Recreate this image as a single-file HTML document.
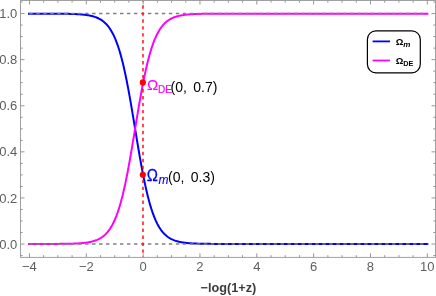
<!DOCTYPE html>
<html><head><meta charset="utf-8"><title>plot</title>
<style>
html,body{margin:0;padding:0;background:#fff;}
body{width:436px;height:296px;overflow:hidden;}
svg{display:block;font-family:"Liberation Sans",sans-serif;}
</style></head><body>
<svg width="436" height="296" viewBox="0 0 436 296">
<g style="mix-blend-mode:multiply">
<path d="M29.00,13.65 L30.02,13.65 L30.59,13.65 L31.16,13.65 L31.72,13.65 L32.29,13.65 L32.86,13.65 L33.43,13.66 L34.00,13.66 L34.57,13.66 L35.13,13.66 L35.70,13.66 L36.27,13.66 L36.84,13.66 L37.41,13.66 L37.98,13.66 L38.54,13.66 L39.11,13.66 L39.68,13.66 L40.25,13.66 L40.82,13.66 L41.39,13.66 L41.95,13.66 L42.52,13.66 L43.09,13.66 L43.66,13.66 L44.23,13.67 L44.80,13.67 L45.37,13.67 L45.93,13.67 L46.50,13.67 L47.07,13.67 L47.64,13.67 L48.21,13.67 L48.78,13.68 L49.34,13.68 L49.91,13.68 L50.48,13.68 L51.05,13.68 L51.62,13.68 L52.19,13.69 L52.75,13.69 L53.32,13.69 L53.89,13.69 L54.46,13.70 L55.03,13.70 L55.60,13.70 L56.16,13.71 L56.73,13.71 L57.30,13.71 L57.87,13.72 L58.44,13.72 L59.01,13.72 L59.58,13.73 L60.14,13.73 L60.71,13.74 L61.28,13.75 L61.85,13.75 L62.42,13.76 L62.99,13.76 L63.55,13.77 L64.12,13.78 L64.69,13.79 L65.26,13.79 L65.83,13.80 L66.40,13.81 L66.96,13.82 L67.53,13.83 L68.10,13.85 L68.67,13.86 L69.24,13.87 L69.81,13.88 L70.37,13.90 L70.94,13.91 L71.51,13.93 L72.08,13.95 L72.65,13.97 L73.22,13.98 L73.79,14.01 L74.35,14.03 L74.92,14.05 L75.49,14.08 L76.06,14.10 L76.63,14.13 L77.20,14.16 L77.76,14.19 L78.33,14.22 L78.90,14.26 L79.47,14.30 L80.04,14.34 L80.61,14.38 L81.17,14.42 L81.74,14.47 L82.31,14.52 L82.88,14.58 L83.45,14.63 L84.02,14.69 L84.58,14.76 L85.15,14.83 L85.72,14.90 L86.29,14.97 L86.86,15.06 L87.43,15.14 L88.00,15.23 L88.56,15.33 L89.13,15.43 L89.70,15.54 L90.27,15.66 L90.84,15.78 L91.41,15.91 L91.97,16.05 L92.54,16.20 L93.11,16.35 L93.68,16.52 L94.25,16.69 L94.82,16.88 L95.38,17.08 L95.95,17.29 L96.52,17.51 L97.09,17.74 L97.66,17.99 L98.23,18.25 L98.79,18.53 L99.36,18.83 L99.93,19.14 L100.50,19.47 L101.07,19.82 L101.64,20.19 L102.21,20.58 L102.77,21.00 L103.34,21.44 L103.91,21.90 L104.48,22.39 L105.05,22.91 L105.62,23.46 L106.18,24.04 L106.75,24.65 L107.32,25.29 L107.89,25.98 L108.46,26.69 L109.03,27.45 L109.59,28.25 L110.16,29.09 L110.73,29.98 L111.30,30.92 L111.87,31.90 L112.44,32.93 L113.00,34.02 L113.57,35.16 L114.14,36.36 L114.71,37.62 L115.28,38.94 L115.85,40.32 L116.42,41.77 L116.98,43.28 L117.55,44.87 L118.12,46.52 L118.69,48.25 L119.26,50.05 L119.83,51.93 L120.39,53.88 L120.96,55.91 L121.53,58.02 L122.10,60.21 L122.67,62.48 L123.24,64.83 L123.80,67.26 L124.37,69.77 L124.94,72.35 L125.51,75.01 L126.08,77.75 L126.65,80.56 L127.21,83.45 L127.78,86.40 L128.35,89.42 L128.92,92.50 L129.49,95.64 L130.06,98.83 L130.63,102.08 L131.19,105.37 L131.76,108.70 L132.33,112.07 L132.90,115.46 L133.47,118.88 L134.04,122.32 L134.60,125.77 L135.17,129.22 L135.74,132.67 L136.31,136.12 L136.88,139.55 L137.45,142.97 L138.01,146.35 L138.58,149.71 L139.15,153.03 L139.72,156.31 L140.29,159.55 L140.86,162.73 L141.42,165.85 L141.99,168.92 L142.56,171.92 L143.13,174.86 L143.70,177.73 L144.27,180.52 L144.84,183.24 L145.40,185.89 L145.97,188.45 L146.54,190.94 L147.11,193.35 L147.68,195.68 L148.25,197.93 L148.81,200.10 L149.38,202.19 L149.95,204.20 L150.52,206.13 L151.09,207.99 L151.66,209.78 L152.22,211.49 L152.79,213.12 L153.36,214.69 L153.93,216.19 L154.50,217.62 L155.07,218.99 L155.63,220.29 L156.20,221.54 L156.77,222.72 L157.34,223.85 L157.91,224.92 L158.48,225.94 L159.05,226.92 L159.61,227.84 L160.18,228.71 L160.75,229.55 L161.32,230.34 L161.89,231.08 L162.46,231.79 L163.02,232.47 L163.59,233.10 L164.16,233.71 L164.73,234.28 L165.30,234.82 L165.87,235.33 L166.43,235.82 L167.00,236.27 L167.57,236.71 L168.14,237.12 L168.71,237.50 L169.28,237.87 L169.84,238.21 L170.41,238.54 L170.98,238.85 L171.55,239.14 L172.12,239.41 L172.69,239.67 L173.26,239.92 L173.82,240.15 L174.39,240.37 L174.96,240.57 L175.53,240.77 L176.10,240.95 L176.67,241.12 L177.23,241.28 L177.80,241.44 L178.37,241.58 L178.94,241.72 L179.51,241.85 L180.08,241.97 L180.64,242.08 L181.21,242.19 L181.78,242.29 L182.35,242.39 L182.92,242.48 L183.49,242.56 L184.05,242.64 L184.62,242.72 L185.19,242.79 L185.76,242.86 L186.33,242.92 L186.90,242.98 L187.47,243.04 L188.03,243.09 L188.60,243.14 L189.17,243.19 L189.74,243.23 L190.31,243.27 L190.88,243.31 L191.44,243.35 L192.01,243.38 L192.58,243.42 L193.15,243.45 L193.72,243.48 L194.29,243.51 L194.85,243.53 L195.42,243.56 L195.99,243.58 L196.56,243.60 L197.13,243.62 L197.70,243.64 L198.26,243.66 L198.83,243.67 L199.40,243.69 L199.97,243.71 L200.54,243.72 L201.11,243.73 L201.68,243.75 L202.24,243.76 L202.81,243.77 L203.38,243.78 L203.95,243.79 L204.52,243.80 L205.09,243.81 L205.65,243.82 L206.22,243.82 L206.79,243.83 L207.36,243.84 L207.93,243.84 L208.50,243.85 L209.06,243.86 L209.63,243.86 L210.20,243.87 L210.77,243.87 L211.34,243.88 L211.91,243.88 L212.47,243.88 L213.04,243.89 L213.61,243.89 L214.18,243.90 L214.75,243.90 L215.32,243.90 L215.89,243.90 L216.45,243.91 L217.02,243.91 L217.59,243.91 L218.16,243.91 L218.73,243.92 L219.30,243.92 L219.86,243.92 L220.43,243.92 L221.00,243.92 L221.57,243.92 L222.14,243.93 L222.71,243.93 L223.27,243.93 L223.84,243.93 L224.41,243.93 L224.98,243.93 L225.55,243.93 L226.12,243.93 L226.68,243.94 L227.25,243.94 L227.82,243.94 L228.39,243.94 L228.96,243.94 L229.53,243.94 L230.10,243.94 L230.66,243.94 L231.23,243.94 L231.80,243.94 L232.37,243.94 L232.94,243.94 L233.51,243.94 L234.07,243.94 L234.64,243.94 L235.21,243.94 L235.78,243.94 L236.35,243.94 L236.92,243.95 L237.48,243.95 L238.05,243.95 L238.62,243.95 L239.19,243.95 L239.76,243.95 L240.33,243.95 L240.89,243.95 L241.46,243.95 L242.03,243.95 L242.60,243.95 L243.17,243.95 L243.74,243.95 L244.31,243.95 L244.87,243.95 L245.44,243.95 L246.01,243.95 L246.58,243.95 L247.15,243.95 L247.72,243.95 L248.28,243.95 L248.85,243.95 L249.42,243.95 L249.99,243.95 L250.56,243.95 L251.13,243.95 L251.69,243.95 L252.26,243.95 L252.83,243.95 L253.40,243.95 L253.97,243.95 L254.54,243.95 L255.10,243.95 L255.67,243.95 L256.24,243.95 L256.81,243.95 L257.38,243.95 L257.95,243.95 L258.52,243.95 L259.08,243.95 L259.65,243.95 L260.22,243.95 L260.79,243.95 L261.36,243.95 L261.93,243.95 L262.49,243.95 L263.06,243.95 L263.63,243.95 L264.20,243.95 L264.77,243.95 L265.34,243.95 L265.90,243.95 L266.47,243.95 L267.04,243.95 L267.61,243.95 L268.18,243.95 L268.75,243.95 L269.31,243.95 L269.88,243.95 L270.45,243.95 L271.02,243.95 L271.59,243.95 L272.16,243.95 L272.73,243.95 L273.29,243.95 L273.86,243.95 L274.43,243.95 L275.00,243.95 L275.57,243.95 L276.14,243.95 L276.70,243.95 L277.27,243.95 L277.84,243.95 L278.41,243.95 L278.98,243.95 L279.55,243.95 L280.11,243.95 L280.68,243.95 L281.25,243.95 L281.82,243.95 L282.39,243.95 L282.96,243.95 L283.52,243.95 L284.09,243.95 L284.66,243.95 L285.23,243.95 L285.80,243.95 L286.37,243.95 L286.94,243.95 L287.50,243.95 L288.07,243.95 L288.64,243.95 L289.21,243.95 L289.78,243.95 L290.35,243.95 L290.91,243.95 L291.48,243.95 L292.05,243.95 L292.62,243.95 L293.19,243.95 L293.76,243.95 L294.32,243.95 L294.89,243.95 L295.46,243.95 L296.03,243.95 L296.60,243.95 L297.17,243.95 L297.73,243.95 L298.30,243.95 L298.87,243.95 L299.44,243.95 L300.01,243.95 L300.58,243.95 L301.15,243.95 L301.71,243.95 L302.28,243.95 L302.85,243.95 L303.42,243.95 L303.99,243.95 L304.56,243.95 L305.12,243.95 L305.69,243.95 L306.26,243.95 L306.83,243.95 L307.40,243.95 L307.97,243.95 L308.53,243.95 L309.10,243.95 L309.67,243.95 L310.24,243.95 L310.81,243.95 L311.38,243.95 L311.94,243.95 L312.51,243.95 L313.08,243.95 L313.65,243.95 L314.22,243.95 L314.79,243.95 L315.36,243.95 L315.92,243.95 L316.49,243.95 L317.06,243.95 L317.63,243.95 L318.20,243.95 L318.77,243.95 L319.33,243.95 L319.90,243.95 L320.47,243.95 L321.04,243.95 L321.61,243.95 L322.18,243.95 L322.74,243.95 L323.31,243.95 L323.88,243.95 L324.45,243.95 L325.02,243.95 L325.59,243.95 L326.15,243.95 L326.72,243.95 L327.29,243.95 L327.86,243.95 L328.43,243.95 L329.00,243.95 L329.57,243.95 L330.13,243.95 L330.70,243.95 L331.27,243.95 L331.84,243.95 L332.41,243.95 L332.98,243.95 L333.54,243.95 L334.11,243.95 L334.68,243.95 L335.25,243.95 L335.82,243.95 L336.39,243.95 L336.95,243.95 L337.52,243.95 L338.09,243.95 L338.66,243.95 L339.23,243.95 L339.80,243.95 L340.36,243.95 L340.93,243.95 L341.50,243.95 L342.07,243.95 L342.64,243.95 L343.21,243.95 L343.78,243.95 L344.34,243.95 L344.91,243.95 L345.48,243.95 L346.05,243.95 L346.62,243.95 L347.19,243.95 L347.75,243.95 L348.32,243.95 L348.89,243.95 L349.46,243.95 L350.03,243.95 L350.60,243.95 L351.16,243.95 L351.73,243.95 L352.30,243.95 L352.87,243.95 L353.44,243.95 L354.01,243.95 L354.57,243.95 L355.14,243.95 L355.71,243.95 L356.28,243.95 L356.85,243.95 L357.42,243.95 L357.99,243.95 L358.55,243.95 L359.12,243.95 L359.69,243.95 L360.26,243.95 L360.83,243.95 L361.40,243.95 L361.96,243.95 L362.53,243.95 L363.10,243.95 L363.67,243.95 L364.24,243.95 L364.81,243.95 L365.37,243.95 L365.94,243.95 L366.51,243.95 L367.08,243.95 L367.65,243.95 L368.22,243.95 L368.78,243.95 L369.35,243.95 L369.92,243.95 L370.49,243.95 L371.06,243.95 L371.63,243.95 L372.20,243.95 L372.76,243.95 L373.33,243.95 L373.90,243.95 L374.47,243.95 L375.04,243.95 L375.61,243.95 L376.17,243.95 L376.74,243.95 L377.31,243.95 L377.88,243.95 L378.45,243.95 L379.02,243.95 L379.58,243.95 L380.15,243.95 L380.72,243.95 L381.29,243.95 L381.86,243.95 L382.43,243.95 L382.99,243.95 L383.56,243.95 L384.13,243.95 L384.70,243.95 L385.27,243.95 L385.84,243.95 L386.41,243.95 L386.97,243.95 L387.54,243.95 L388.11,243.95 L388.68,243.95 L389.25,243.95 L389.82,243.95 L390.38,243.95 L390.95,243.95 L391.52,243.95 L392.09,243.95 L392.66,243.95 L393.23,243.95 L393.79,243.95 L394.36,243.95 L394.93,243.95 L395.50,243.95 L396.07,243.95 L396.64,243.95 L397.20,243.95 L397.77,243.95 L398.34,243.95 L398.91,243.95 L399.48,243.95 L400.05,243.95 L400.62,243.95 L401.18,243.95 L401.75,243.95 L402.32,243.95 L402.89,243.95 L403.46,243.95 L404.03,243.95 L404.59,243.95 L405.16,243.95 L405.73,243.95 L406.30,243.95 L406.87,243.95 L407.44,243.95 L408.00,243.95 L408.57,243.95 L409.14,243.95 L409.71,243.95 L410.28,243.95 L410.85,243.95 L411.41,243.95 L411.98,243.95 L412.55,243.95 L413.12,243.95 L413.69,243.95 L414.26,243.95 L414.83,243.95 L415.39,243.95 L415.96,243.95 L416.53,243.95 L417.10,243.95 L417.67,243.95 L418.24,243.95 L418.80,243.95 L419.37,243.95 L419.94,243.95 L420.51,243.95 L421.08,243.95 L421.65,243.95 L422.21,243.95 L422.78,243.95 L423.35,243.95 L423.92,243.95 L424.49,243.95 L425.06,243.95 L425.62,243.95 L426.19,243.95 L426.76,243.95 L427.33,243.95" fill="none" stroke="#0000ff" stroke-width="2" stroke-linejoin="round" stroke-linecap="square"/>
<path d="M29.00,243.95 L30.02,243.95 L30.59,243.95 L31.16,243.95 L31.72,243.95 L32.29,243.95 L32.86,243.95 L33.43,243.94 L34.00,243.94 L34.57,243.94 L35.13,243.94 L35.70,243.94 L36.27,243.94 L36.84,243.94 L37.41,243.94 L37.98,243.94 L38.54,243.94 L39.11,243.94 L39.68,243.94 L40.25,243.94 L40.82,243.94 L41.39,243.94 L41.95,243.94 L42.52,243.94 L43.09,243.94 L43.66,243.94 L44.23,243.93 L44.80,243.93 L45.37,243.93 L45.93,243.93 L46.50,243.93 L47.07,243.93 L47.64,243.93 L48.21,243.93 L48.78,243.92 L49.34,243.92 L49.91,243.92 L50.48,243.92 L51.05,243.92 L51.62,243.92 L52.19,243.91 L52.75,243.91 L53.32,243.91 L53.89,243.91 L54.46,243.90 L55.03,243.90 L55.60,243.90 L56.16,243.89 L56.73,243.89 L57.30,243.89 L57.87,243.88 L58.44,243.88 L59.01,243.88 L59.58,243.87 L60.14,243.87 L60.71,243.86 L61.28,243.85 L61.85,243.85 L62.42,243.84 L62.99,243.84 L63.55,243.83 L64.12,243.82 L64.69,243.81 L65.26,243.81 L65.83,243.80 L66.40,243.79 L66.96,243.78 L67.53,243.77 L68.10,243.75 L68.67,243.74 L69.24,243.73 L69.81,243.72 L70.37,243.70 L70.94,243.69 L71.51,243.67 L72.08,243.65 L72.65,243.63 L73.22,243.62 L73.79,243.59 L74.35,243.57 L74.92,243.55 L75.49,243.52 L76.06,243.50 L76.63,243.47 L77.20,243.44 L77.76,243.41 L78.33,243.38 L78.90,243.34 L79.47,243.30 L80.04,243.26 L80.61,243.22 L81.17,243.18 L81.74,243.13 L82.31,243.08 L82.88,243.02 L83.45,242.97 L84.02,242.91 L84.58,242.84 L85.15,242.77 L85.72,242.70 L86.29,242.63 L86.86,242.54 L87.43,242.46 L88.00,242.37 L88.56,242.27 L89.13,242.17 L89.70,242.06 L90.27,241.94 L90.84,241.82 L91.41,241.69 L91.97,241.55 L92.54,241.40 L93.11,241.25 L93.68,241.08 L94.25,240.91 L94.82,240.72 L95.38,240.52 L95.95,240.31 L96.52,240.09 L97.09,239.86 L97.66,239.61 L98.23,239.35 L98.79,239.07 L99.36,238.77 L99.93,238.46 L100.50,238.13 L101.07,237.78 L101.64,237.41 L102.21,237.02 L102.77,236.60 L103.34,236.16 L103.91,235.70 L104.48,235.21 L105.05,234.69 L105.62,234.14 L106.18,233.56 L106.75,232.95 L107.32,232.31 L107.89,231.62 L108.46,230.91 L109.03,230.15 L109.59,229.35 L110.16,228.51 L110.73,227.62 L111.30,226.68 L111.87,225.70 L112.44,224.67 L113.00,223.58 L113.57,222.44 L114.14,221.24 L114.71,219.98 L115.28,218.66 L115.85,217.28 L116.42,215.83 L116.98,214.32 L117.55,212.73 L118.12,211.08 L118.69,209.35 L119.26,207.55 L119.83,205.67 L120.39,203.72 L120.96,201.69 L121.53,199.58 L122.10,197.39 L122.67,195.12 L123.24,192.77 L123.80,190.34 L124.37,187.83 L124.94,185.25 L125.51,182.59 L126.08,179.85 L126.65,177.04 L127.21,174.15 L127.78,171.20 L128.35,168.18 L128.92,165.10 L129.49,161.96 L130.06,158.77 L130.63,155.52 L131.19,152.23 L131.76,148.90 L132.33,145.53 L132.90,142.14 L133.47,138.72 L134.04,135.28 L134.60,131.83 L135.17,128.38 L135.74,124.93 L136.31,121.48 L136.88,118.05 L137.45,114.63 L138.01,111.25 L138.58,107.89 L139.15,104.57 L139.72,101.29 L140.29,98.05 L140.86,94.87 L141.42,91.75 L141.99,88.68 L142.56,85.68 L143.13,82.74 L143.70,79.87 L144.27,77.08 L144.84,74.36 L145.40,71.71 L145.97,69.15 L146.54,66.66 L147.11,64.25 L147.68,61.92 L148.25,59.67 L148.81,57.50 L149.38,55.41 L149.95,53.40 L150.52,51.47 L151.09,49.61 L151.66,47.82 L152.22,46.11 L152.79,44.48 L153.36,42.91 L153.93,41.41 L154.50,39.98 L155.07,38.61 L155.63,37.31 L156.20,36.06 L156.77,34.88 L157.34,33.75 L157.91,32.68 L158.48,31.66 L159.05,30.68 L159.61,29.76 L160.18,28.89 L160.75,28.05 L161.32,27.26 L161.89,26.52 L162.46,25.81 L163.02,25.13 L163.59,24.50 L164.16,23.89 L164.73,23.32 L165.30,22.78 L165.87,22.27 L166.43,21.78 L167.00,21.33 L167.57,20.89 L168.14,20.48 L168.71,20.10 L169.28,19.73 L169.84,19.39 L170.41,19.06 L170.98,18.75 L171.55,18.46 L172.12,18.19 L172.69,17.93 L173.26,17.68 L173.82,17.45 L174.39,17.23 L174.96,17.03 L175.53,16.83 L176.10,16.65 L176.67,16.48 L177.23,16.32 L177.80,16.16 L178.37,16.02 L178.94,15.88 L179.51,15.75 L180.08,15.63 L180.64,15.52 L181.21,15.41 L181.78,15.31 L182.35,15.21 L182.92,15.12 L183.49,15.04 L184.05,14.96 L184.62,14.88 L185.19,14.81 L185.76,14.74 L186.33,14.68 L186.90,14.62 L187.47,14.56 L188.03,14.51 L188.60,14.46 L189.17,14.41 L189.74,14.37 L190.31,14.33 L190.88,14.29 L191.44,14.25 L192.01,14.22 L192.58,14.18 L193.15,14.15 L193.72,14.12 L194.29,14.09 L194.85,14.07 L195.42,14.04 L195.99,14.02 L196.56,14.00 L197.13,13.98 L197.70,13.96 L198.26,13.94 L198.83,13.93 L199.40,13.91 L199.97,13.89 L200.54,13.88 L201.11,13.87 L201.68,13.85 L202.24,13.84 L202.81,13.83 L203.38,13.82 L203.95,13.81 L204.52,13.80 L205.09,13.79 L205.65,13.78 L206.22,13.78 L206.79,13.77 L207.36,13.76 L207.93,13.76 L208.50,13.75 L209.06,13.74 L209.63,13.74 L210.20,13.73 L210.77,13.73 L211.34,13.72 L211.91,13.72 L212.47,13.72 L213.04,13.71 L213.61,13.71 L214.18,13.70 L214.75,13.70 L215.32,13.70 L215.89,13.70 L216.45,13.69 L217.02,13.69 L217.59,13.69 L218.16,13.69 L218.73,13.68 L219.30,13.68 L219.86,13.68 L220.43,13.68 L221.00,13.68 L221.57,13.68 L222.14,13.67 L222.71,13.67 L223.27,13.67 L223.84,13.67 L224.41,13.67 L224.98,13.67 L225.55,13.67 L226.12,13.67 L226.68,13.66 L227.25,13.66 L227.82,13.66 L228.39,13.66 L228.96,13.66 L229.53,13.66 L230.10,13.66 L230.66,13.66 L231.23,13.66 L231.80,13.66 L232.37,13.66 L232.94,13.66 L233.51,13.66 L234.07,13.66 L234.64,13.66 L235.21,13.66 L235.78,13.66 L236.35,13.66 L236.92,13.65 L237.48,13.65 L238.05,13.65 L238.62,13.65 L239.19,13.65 L239.76,13.65 L240.33,13.65 L240.89,13.65 L241.46,13.65 L242.03,13.65 L242.60,13.65 L243.17,13.65 L243.74,13.65 L244.31,13.65 L244.87,13.65 L245.44,13.65 L246.01,13.65 L246.58,13.65 L247.15,13.65 L247.72,13.65 L248.28,13.65 L248.85,13.65 L249.42,13.65 L249.99,13.65 L250.56,13.65 L251.13,13.65 L251.69,13.65 L252.26,13.65 L252.83,13.65 L253.40,13.65 L253.97,13.65 L254.54,13.65 L255.10,13.65 L255.67,13.65 L256.24,13.65 L256.81,13.65 L257.38,13.65 L257.95,13.65 L258.52,13.65 L259.08,13.65 L259.65,13.65 L260.22,13.65 L260.79,13.65 L261.36,13.65 L261.93,13.65 L262.49,13.65 L263.06,13.65 L263.63,13.65 L264.20,13.65 L264.77,13.65 L265.34,13.65 L265.90,13.65 L266.47,13.65 L267.04,13.65 L267.61,13.65 L268.18,13.65 L268.75,13.65 L269.31,13.65 L269.88,13.65 L270.45,13.65 L271.02,13.65 L271.59,13.65 L272.16,13.65 L272.73,13.65 L273.29,13.65 L273.86,13.65 L274.43,13.65 L275.00,13.65 L275.57,13.65 L276.14,13.65 L276.70,13.65 L277.27,13.65 L277.84,13.65 L278.41,13.65 L278.98,13.65 L279.55,13.65 L280.11,13.65 L280.68,13.65 L281.25,13.65 L281.82,13.65 L282.39,13.65 L282.96,13.65 L283.52,13.65 L284.09,13.65 L284.66,13.65 L285.23,13.65 L285.80,13.65 L286.37,13.65 L286.94,13.65 L287.50,13.65 L288.07,13.65 L288.64,13.65 L289.21,13.65 L289.78,13.65 L290.35,13.65 L290.91,13.65 L291.48,13.65 L292.05,13.65 L292.62,13.65 L293.19,13.65 L293.76,13.65 L294.32,13.65 L294.89,13.65 L295.46,13.65 L296.03,13.65 L296.60,13.65 L297.17,13.65 L297.73,13.65 L298.30,13.65 L298.87,13.65 L299.44,13.65 L300.01,13.65 L300.58,13.65 L301.15,13.65 L301.71,13.65 L302.28,13.65 L302.85,13.65 L303.42,13.65 L303.99,13.65 L304.56,13.65 L305.12,13.65 L305.69,13.65 L306.26,13.65 L306.83,13.65 L307.40,13.65 L307.97,13.65 L308.53,13.65 L309.10,13.65 L309.67,13.65 L310.24,13.65 L310.81,13.65 L311.38,13.65 L311.94,13.65 L312.51,13.65 L313.08,13.65 L313.65,13.65 L314.22,13.65 L314.79,13.65 L315.36,13.65 L315.92,13.65 L316.49,13.65 L317.06,13.65 L317.63,13.65 L318.20,13.65 L318.77,13.65 L319.33,13.65 L319.90,13.65 L320.47,13.65 L321.04,13.65 L321.61,13.65 L322.18,13.65 L322.74,13.65 L323.31,13.65 L323.88,13.65 L324.45,13.65 L325.02,13.65 L325.59,13.65 L326.15,13.65 L326.72,13.65 L327.29,13.65 L327.86,13.65 L328.43,13.65 L329.00,13.65 L329.57,13.65 L330.13,13.65 L330.70,13.65 L331.27,13.65 L331.84,13.65 L332.41,13.65 L332.98,13.65 L333.54,13.65 L334.11,13.65 L334.68,13.65 L335.25,13.65 L335.82,13.65 L336.39,13.65 L336.95,13.65 L337.52,13.65 L338.09,13.65 L338.66,13.65 L339.23,13.65 L339.80,13.65 L340.36,13.65 L340.93,13.65 L341.50,13.65 L342.07,13.65 L342.64,13.65 L343.21,13.65 L343.78,13.65 L344.34,13.65 L344.91,13.65 L345.48,13.65 L346.05,13.65 L346.62,13.65 L347.19,13.65 L347.75,13.65 L348.32,13.65 L348.89,13.65 L349.46,13.65 L350.03,13.65 L350.60,13.65 L351.16,13.65 L351.73,13.65 L352.30,13.65 L352.87,13.65 L353.44,13.65 L354.01,13.65 L354.57,13.65 L355.14,13.65 L355.71,13.65 L356.28,13.65 L356.85,13.65 L357.42,13.65 L357.99,13.65 L358.55,13.65 L359.12,13.65 L359.69,13.65 L360.26,13.65 L360.83,13.65 L361.40,13.65 L361.96,13.65 L362.53,13.65 L363.10,13.65 L363.67,13.65 L364.24,13.65 L364.81,13.65 L365.37,13.65 L365.94,13.65 L366.51,13.65 L367.08,13.65 L367.65,13.65 L368.22,13.65 L368.78,13.65 L369.35,13.65 L369.92,13.65 L370.49,13.65 L371.06,13.65 L371.63,13.65 L372.20,13.65 L372.76,13.65 L373.33,13.65 L373.90,13.65 L374.47,13.65 L375.04,13.65 L375.61,13.65 L376.17,13.65 L376.74,13.65 L377.31,13.65 L377.88,13.65 L378.45,13.65 L379.02,13.65 L379.58,13.65 L380.15,13.65 L380.72,13.65 L381.29,13.65 L381.86,13.65 L382.43,13.65 L382.99,13.65 L383.56,13.65 L384.13,13.65 L384.70,13.65 L385.27,13.65 L385.84,13.65 L386.41,13.65 L386.97,13.65 L387.54,13.65 L388.11,13.65 L388.68,13.65 L389.25,13.65 L389.82,13.65 L390.38,13.65 L390.95,13.65 L391.52,13.65 L392.09,13.65 L392.66,13.65 L393.23,13.65 L393.79,13.65 L394.36,13.65 L394.93,13.65 L395.50,13.65 L396.07,13.65 L396.64,13.65 L397.20,13.65 L397.77,13.65 L398.34,13.65 L398.91,13.65 L399.48,13.65 L400.05,13.65 L400.62,13.65 L401.18,13.65 L401.75,13.65 L402.32,13.65 L402.89,13.65 L403.46,13.65 L404.03,13.65 L404.59,13.65 L405.16,13.65 L405.73,13.65 L406.30,13.65 L406.87,13.65 L407.44,13.65 L408.00,13.65 L408.57,13.65 L409.14,13.65 L409.71,13.65 L410.28,13.65 L410.85,13.65 L411.41,13.65 L411.98,13.65 L412.55,13.65 L413.12,13.65 L413.69,13.65 L414.26,13.65 L414.83,13.65 L415.39,13.65 L415.96,13.65 L416.53,13.65 L417.10,13.65 L417.67,13.65 L418.24,13.65 L418.80,13.65 L419.37,13.65 L419.94,13.65 L420.51,13.65 L421.08,13.65 L421.65,13.65 L422.21,13.65 L422.78,13.65 L423.35,13.65 L423.92,13.65 L424.49,13.65 L425.06,13.65 L425.62,13.65 L426.19,13.65 L426.76,13.65 L427.33,13.65" fill="none" stroke="#ff00ff" stroke-width="2" stroke-linejoin="round" stroke-linecap="square"/>
<path d="M29.3,13.4 H427.4 M29.3,243.9 H427.4" stroke="#808080" stroke-width="1.55" stroke-dasharray="3.45 3.527" fill="none"/>
<path d="M142.98,-1.75 V257.4" stroke="#ff0000" stroke-width="1.4" stroke-dasharray="3.45 3.527" fill="none"/>
<rect x="20.5" y="0.5" width="415.0" height="256.9" fill="none" stroke="#a0a0a0" stroke-width="1"/>
<path d="M29.45,257.40 v-4.00 M29.45,0.50 v4.00 M43.66,257.40 v-2.20 M43.66,0.50 v2.20 M57.87,257.40 v-2.20 M57.87,0.50 v2.20 M72.08,257.40 v-2.20 M72.08,0.50 v2.20 M86.29,257.40 v-4.00 M86.29,0.50 v4.00 M100.50,257.40 v-2.20 M100.50,0.50 v2.20 M114.71,257.40 v-2.20 M114.71,0.50 v2.20 M128.92,257.40 v-2.20 M128.92,0.50 v2.20 M143.13,257.40 v-4.00 M143.13,0.50 v4.00 M157.34,257.40 v-2.20 M157.34,0.50 v2.20 M171.55,257.40 v-2.20 M171.55,0.50 v2.20 M185.76,257.40 v-2.20 M185.76,0.50 v2.20 M199.97,257.40 v-4.00 M199.97,0.50 v4.00 M214.18,257.40 v-2.20 M214.18,0.50 v2.20 M228.39,257.40 v-2.20 M228.39,0.50 v2.20 M242.60,257.40 v-2.20 M242.60,0.50 v2.20 M256.81,257.40 v-4.00 M256.81,0.50 v4.00 M271.02,257.40 v-2.20 M271.02,0.50 v2.20 M285.23,257.40 v-2.20 M285.23,0.50 v2.20 M299.44,257.40 v-2.20 M299.44,0.50 v2.20 M313.65,257.40 v-4.00 M313.65,0.50 v4.00 M327.86,257.40 v-2.20 M327.86,0.50 v2.20 M342.07,257.40 v-2.20 M342.07,0.50 v2.20 M356.28,257.40 v-2.20 M356.28,0.50 v2.20 M370.49,257.40 v-4.00 M370.49,0.50 v4.00 M384.70,257.40 v-2.20 M384.70,0.50 v2.20 M398.91,257.40 v-2.20 M398.91,0.50 v2.20 M413.12,257.40 v-2.20 M413.12,0.50 v2.20 M427.33,257.40 v-4.00 M427.33,0.50 v4.00 M20.50,255.58 h2.20 M435.50,255.58 h-2.20 M20.50,244.05 h4.00 M435.50,244.05 h-4.00 M20.50,232.53 h2.20 M435.50,232.53 h-2.20 M20.50,221.00 h2.20 M435.50,221.00 h-2.20 M20.50,209.48 h2.20 M435.50,209.48 h-2.20 M20.50,197.95 h4.00 M435.50,197.95 h-4.00 M20.50,186.43 h2.20 M435.50,186.43 h-2.20 M20.50,174.90 h2.20 M435.50,174.90 h-2.20 M20.50,163.38 h2.20 M435.50,163.38 h-2.20 M20.50,151.85 h4.00 M435.50,151.85 h-4.00 M20.50,140.32 h2.20 M435.50,140.32 h-2.20 M20.50,128.80 h2.20 M435.50,128.80 h-2.20 M20.50,117.28 h2.20 M435.50,117.28 h-2.20 M20.50,105.75 h4.00 M435.50,105.75 h-4.00 M20.50,94.22 h2.20 M435.50,94.22 h-2.20 M20.50,82.70 h2.20 M435.50,82.70 h-2.20 M20.50,71.18 h2.20 M435.50,71.18 h-2.20 M20.50,59.65 h4.00 M435.50,59.65 h-4.00 M20.50,48.12 h2.20 M435.50,48.12 h-2.20 M20.50,36.60 h2.20 M435.50,36.60 h-2.20 M20.50,25.07 h2.20 M435.50,25.07 h-2.20 M20.50,13.55 h4.00 M435.50,13.55 h-4.00 M20.50,2.03 h2.20 M435.50,2.03 h-2.20" stroke="#969696" stroke-width="1" fill="none"/>
<g font-size="13" fill="#5e5e5e"><text x="29.45" y="271.3" text-anchor="middle">−4</text><text x="86.29" y="271.3" text-anchor="middle">−2</text><text x="143.13" y="271.3" text-anchor="middle">0</text><text x="199.97" y="271.3" text-anchor="middle">2</text><text x="256.81" y="271.3" text-anchor="middle">4</text><text x="313.65" y="271.3" text-anchor="middle">6</text><text x="370.49" y="271.3" text-anchor="middle">8</text><text x="427.33" y="271.3" text-anchor="middle">10</text><text x="17.3" y="248.65" text-anchor="end">0.0</text><text x="17.3" y="202.55" text-anchor="end">0.2</text><text x="17.3" y="156.45" text-anchor="end">0.4</text><text x="17.3" y="110.35" text-anchor="end">0.6</text><text x="17.3" y="64.25" text-anchor="end">0.8</text><text x="17.3" y="18.15" text-anchor="end">1.0</text></g>
<text x="228.4" y="292" text-anchor="middle" font-size="12.7" font-weight="bold" fill="#3c3c3c">−log(1+z)</text>
<circle cx="142.83" cy="82.45" r="3.1" fill="#ff0000"/>
<circle cx="142.83" cy="174.75" r="3.1" fill="#ff0000"/>
<g font-size="14">
<text x="147.1" y="90.4" fill="#ff00ff" stroke="#ff00ff" stroke-width="0.15" font-size="15">Ω</text><text x="158" y="92.8" fill="#ff00ff" stroke="#ff00ff" stroke-width="0.2" font-size="10">DE</text>
<text x="170.6" y="91.9" fill="#000">(0,</text><text x="193.3" y="91.9" fill="#000">0.7)</text>
<text transform="translate(146.8,181.0) scale(1,1.08)" x="0" y="0" fill="#0000ff" stroke="#0000ff" stroke-width="0.25" font-size="15">Ω</text><text x="158.6" y="184" fill="#0000ff" stroke="#0000ff" stroke-width="0.15" font-size="12" font-style="italic">m</text>
<text x="168.1" y="182.3" fill="#000">(0,</text><text x="190.8" y="182.3" fill="#000">0.3)</text>
</g>
<rect x="367.4" y="30.9" width="52.9" height="41.9" rx="8.5" ry="8.5" fill="#fff" stroke="#000" stroke-width="1.2"/>
<path d="M372.6,41.4 H390" stroke="#0000ff" stroke-width="1.8"/>
<path d="M372.6,60.5 H390" stroke="#ff00ff" stroke-width="1.8"/>
<g font-size="9.5" font-weight="bold" fill="#000">
<text x="395.7" y="44.7">Ω<tspan font-size="8" dy="2" font-style="italic">m</tspan></text>
<text x="395.7" y="63.5">Ω<tspan font-size="7.3" dy="2.4">DE</tspan></text>
</g>
</g>
</svg>
</body></html>
